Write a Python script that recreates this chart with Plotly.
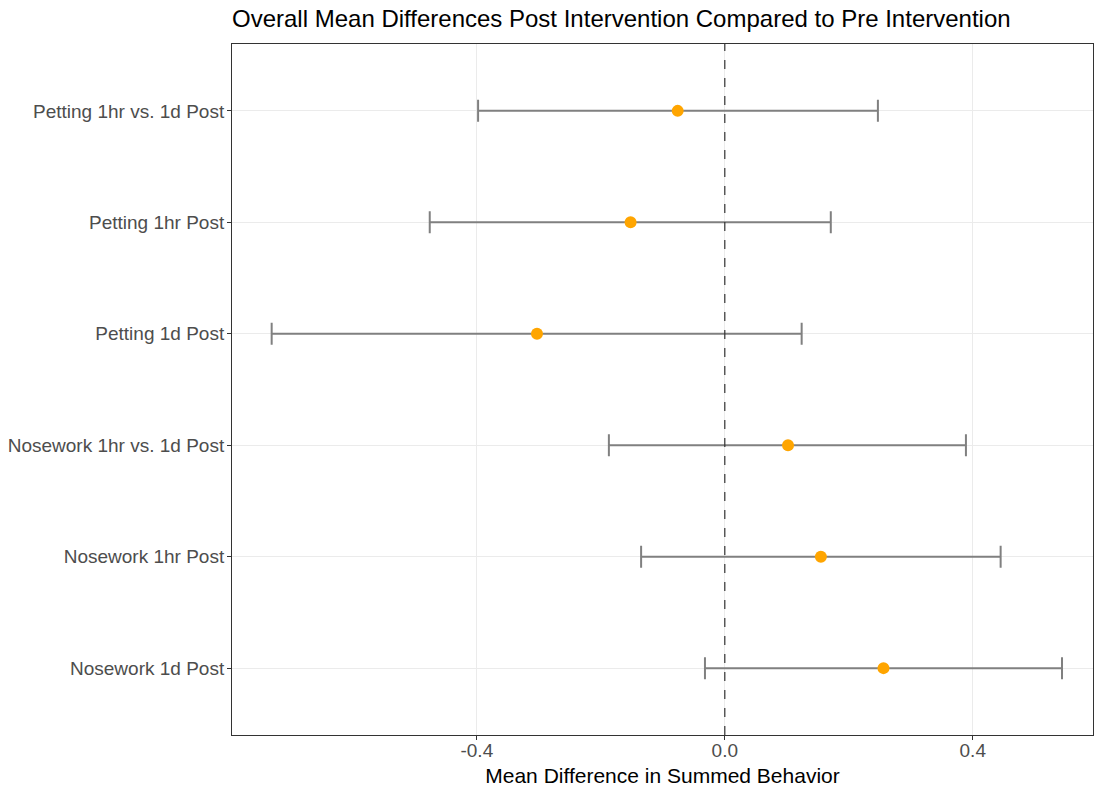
import plotly.graph_objects as go

categories = ["Nosework 1d Post", "Nosework 1hr Post", "Nosework 1hr vs. 1d Post",
              "Petting 1d Post", "Petting 1hr Post", "Petting 1hr vs. 1d Post"]
mean_diff = [0.256, 0.155, 0.102, -0.303, -0.152, -0.076]
ci_low = [-0.032, -0.135, -0.187, -0.731, -0.476, -0.398]
ci_high = [0.544, 0.445, 0.389, 0.124, 0.171, 0.247]
x_ticks = [-0.4, 0.0, 0.4]
x_tick_labels = ["-0.4", "0.0", "0.4"]

err_plus = [h - m for h, m in zip(ci_high, mean_diff)]
err_minus = [m - l for m, l in zip(mean_diff, ci_low)]

W, H = 1094, 787

fig = go.Figure()
fig.add_trace(go.Scatter(
    x=mean_diff, y=categories, mode="markers",
    marker=dict(color="#FFA500", size=12),
    error_x=dict(type="data", symmetric=False, array=err_plus, arrayminus=err_minus,
                 color="#808080", thickness=2, width=11),
    showlegend=False,
))

fig.add_shape(type="line", x0=0, x1=0, y0=0, y1=1, xref="x", yref="paper",
              line=dict(color="#333333", width=1.2, dash="dash"))

fig.update_layout(
    width=W, height=H,
    margin=dict(l=232, r=1, t=44, b=H - 735),
    paper_bgcolor="white", plot_bgcolor="white",
    font=dict(family="Liberation Sans, Arial, sans-serif"),
    title=dict(text="Overall Mean Differences Post Intervention Compared to Pre Intervention",
               x=232 / W, xanchor="left", y=1 - 19 / H, yanchor="middle",
               font=dict(size=24, color="black")),
    xaxis=dict(range=[-0.795, 0.594], tickvals=x_ticks, ticktext=x_tick_labels,
               showgrid=True, gridcolor="#EBEBEB", gridwidth=1, zeroline=False,
               showline=True, linecolor="#333333", linewidth=1, mirror=True,
               ticks="outside", ticklen=4, tickcolor="#333333",
               tickfont=dict(size=19, color="#4D4D4D"), ticklabelstandoff=-6,
               automargin=False,
               title=dict(text="Mean Difference in Summed Behavior",
                          font=dict(size=21, color="black"), standoff=8)),
    yaxis=dict(type="category", categoryorder="array", categoryarray=categories,
               range=[-0.6, 5.6], automargin=False,
               showgrid=True, gridcolor="#EBEBEB", gridwidth=1, zeroline=False,
               showline=True, linecolor="#333333", linewidth=1, mirror=True,
               ticks="outside", ticklen=4, tickcolor="#333333",
               tickfont=dict(size=19, color="#4D4D4D"), ticklabelstandoff=-1),
)

fig.write_html("out.html", config={"responsive": False, "displayModeBar": False},
               post_script="document.body.style.margin='0';document.body.style.overflow='hidden';")
